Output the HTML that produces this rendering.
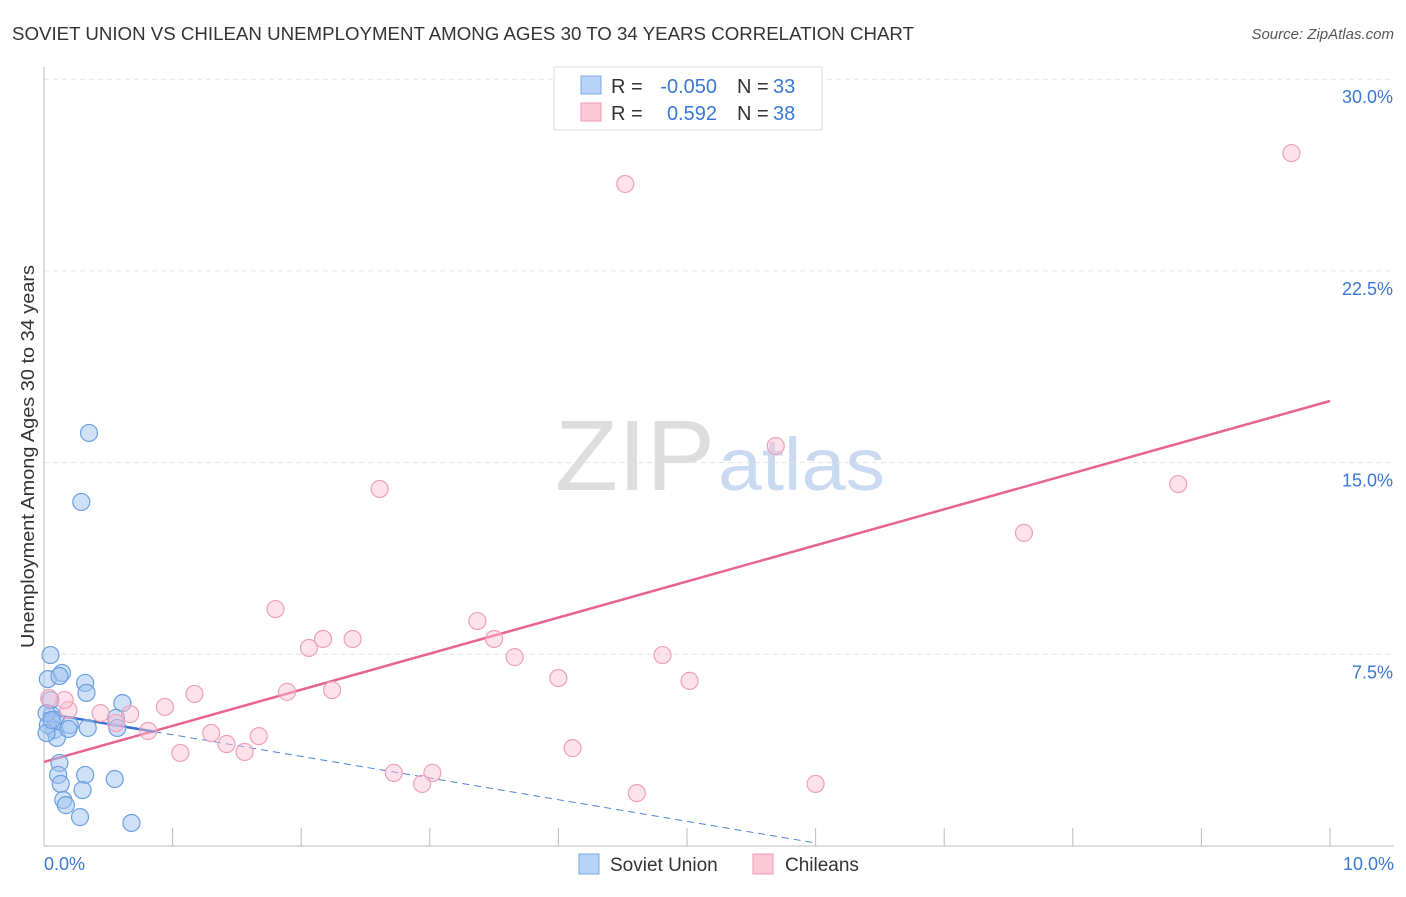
<!DOCTYPE html>
<html><head><meta charset="utf-8"><style>
body{margin:0;background:#fff;font-family:"Liberation Sans",sans-serif;}
svg text{font-family:"Liberation Sans",sans-serif;}
</style></head><body>
<svg id="chart" width="1406" height="892">
<text x="12" y="40" font-size="18" fill="#333" textLength="902" lengthAdjust="spacingAndGlyphs">SOVIET UNION VS CHILEAN UNEMPLOYMENT AMONG AGES 30 TO 34 YEARS CORRELATION CHART</text>
<text x="1394" y="39" font-size="15" fill="#555" text-anchor="end" font-style="italic">Source: ZipAtlas.com</text>
<text transform="translate(34,648) rotate(-90)" font-size="18" fill="#333" textLength="383" lengthAdjust="spacingAndGlyphs">Unemployment Among Ages 30 to 34 years</text>
<g><text x="555" y="490" font-size="100" fill="#ddd" textLength="160" lengthAdjust="spacingAndGlyphs" font-family="Liberation Serif">ZIP</text><text x="718" y="490" font-size="74" fill="#c9d9ef" textLength="167" lengthAdjust="spacingAndGlyphs">atlas</text></g>
<g id="grid"></g><g id="axes"></g><g id="lines"></g><g id="pts"></g>
<g>
<rect x="554" y="67" width="268" height="63" fill="#fff" stroke="#ddd"/>
<rect x="581" y="76" width="20" height="18" fill="#b8d3f5" stroke="#7aa8e6"/>
<rect x="581" y="103" width="20" height="18" fill="#fcc8d8" stroke="#ee9ab5"/>
<text x="611" y="93" font-size="20" fill="#333">R =</text><text x="717" y="93" font-size="20" fill="#3a78d4" text-anchor="end">-0.050</text>
<text x="737" y="93" font-size="20" fill="#333">N =</text><text x="773" y="93" font-size="20" fill="#3a78d4">33</text>
<text x="611" y="120" font-size="20" fill="#333">R =</text><text x="717" y="120" font-size="20" fill="#3a78d4" text-anchor="end">0.592</text>
<text x="737" y="120" font-size="20" fill="#333">N =</text><text x="773" y="120" font-size="20" fill="#3a78d4">38</text>
</g>
<g>
<rect x="579" y="854" width="20" height="20" fill="#b8d3f5" stroke="#7aa8e6"/>
<text x="610" y="871" font-size="19" fill="#333">Soviet Union</text>
<rect x="753" y="854" width="20" height="20" fill="#fcc8d8" stroke="#ee9ab5"/>
<text x="785" y="871" font-size="19" fill="#333">Chileans</text>
</g>
</svg>
<script>
const sovietX=[0.05,0.03,0.14,0.12,0.35,0.29,0.32,0.33,0.61,0.56,0.06,0.09,0.08,0.10,0.03,0.20,0.19,0.34,0.05,0.57,0.12,0.11,0.32,0.30,0.13,0.15,0.17,0.55,0.28,0.68,0.02,0.02,0.06];
const sovietY=[7.47,6.53,6.77,6.65,16.16,13.46,6.38,5.99,5.59,5.01,5.13,4.93,4.54,4.23,4.73,4.73,4.58,4.62,5.71,4.62,3.25,2.78,2.78,2.19,2.43,1.80,1.60,2.62,1.13,0.90,5.20,4.42,4.93];
const chileX=[9.70,4.52,5.69,2.61,8.82,7.62,1.80,3.37,2.06,2.17,2.40,3.50,3.66,4.81,4.00,5.02,1.89,2.24,1.17,0.94,0.67,0.56,0.19,0.16,0.04,0.81,1.30,1.42,1.56,1.67,1.06,2.72,3.02,2.94,4.11,4.61,6.00,0.44];
const chileY=[27.11,25.90,15.65,13.97,14.16,12.25,9.27,8.80,7.75,8.10,8.10,8.10,7.39,7.47,6.57,6.46,6.03,6.10,5.95,5.44,5.16,4.81,5.32,5.71,5.79,4.50,4.42,3.99,3.68,4.30,3.64,2.86,2.86,2.43,3.83,2.07,2.43,5.20];
const yTicks=[7.5,15,22.5,30];
const yTickLabels=["7.5%","15.0%","22.5%","30.0%"];
const xTicks=[0,1,2,3,4,5,6,7,8,9,10];
const chileFit=[3.29,1.412];
const sovietFit=[5.20,-0.847];
const sovietSolidEnd=0.86, sovietDashEnd=6.0;
const X=v=>44+v*128.6, Y=v=>846-v*25.56;
const NS="http://www.w3.org/2000/svg";
function mk(tag,attrs,parent){const e=document.createElementNS(NS,tag);for(const k in attrs)e.setAttribute(k,attrs[k]);document.getElementById(parent).appendChild(e);return e;}
yTicks.forEach((t,i)=>{
 const l=mk('line',{x1:44,x2:1394,y1:Y(t),y2:Y(t),stroke:'#e2e2e2','stroke-dasharray':'5,4'},'grid');
 
 
 const tx=mk('text',{x:1393,y:Y(t)+24,'font-size':18,fill:'#3a78d4','text-anchor':'end'},'grid');tx.textContent=yTickLabels[i];
 
 
});
const ax=mk('line',{x1:44,x2:44,y1:67,y2:846,stroke:'#bbb'},'axes');


const bx=mk('line',{x1:44,x2:1394,y1:846,y2:846,stroke:'#bbb'},'axes');


xTicks.forEach(t=>{const l=mk('line',{x1:X(t),x2:X(t),y1:828,y2:846,stroke:'#bbb'},'axes');
 
 });
[[0,"0.0%",'start',44],[10,"10.0%",'end',1394]].forEach(d=>{const t=mk('text',{x:d[3],y:870,'font-size':18,fill:'#3a78d4','text-anchor':d[2]},'axes');t.textContent=d[1];
 
 });
sovietX.forEach((x,i)=>{const c=mk('circle',{cx:X(x),cy:Y(sovietY[i]),r:8.5,fill:'rgba(160,196,240,0.5)',stroke:'#6d9fe0','stroke-width':1.2},'pts');
 
 });
chileX.forEach((x,i)=>{const c=mk('circle',{cx:X(x),cy:Y(chileY[i]),r:8.5,fill:'rgba(250,190,210,0.45)',stroke:'#eea0b9','stroke-width':1.2},'pts');
 
 });
const f=(fit,x)=>fit[0]+fit[1]*x;
const cl=mk('line',{x1:X(0),y1:Y(f(chileFit,0)),x2:X(10),y2:Y(f(chileFit,10)),stroke:'#e8638f','stroke-width':2.5},'lines');


const sd=mk('line',{x1:X(sovietSolidEnd),y1:Y(f(sovietFit,sovietSolidEnd)),x2:X(sovietDashEnd),y2:Y(f(sovietFit,sovietDashEnd)),stroke:'#4a82d8','stroke-width':1,'stroke-dasharray':'7,5'},'lines');


const ss=mk('line',{x1:X(0),y1:Y(f(sovietFit,0)),x2:X(sovietSolidEnd),y2:Y(f(sovietFit,sovietSolidEnd)),stroke:'#3a70d0','stroke-width':2.5},'lines');


</script>
</body></html>
